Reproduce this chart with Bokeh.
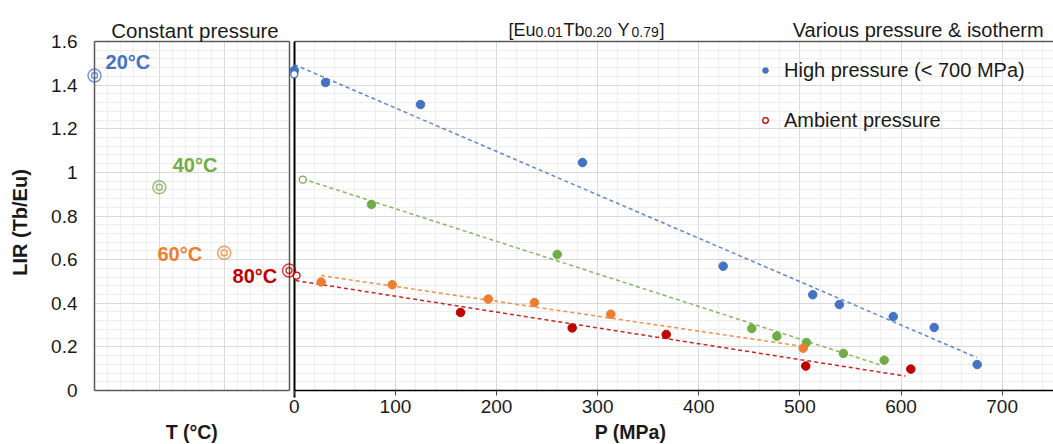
from bokeh.plotting import figure
from bokeh.models import (Range1d, LinearAxis, FixedTicker, Grid, Label,
                          Legend, LegendItem, CustomJSTickFormatter, ColumnDataSource)
from bokeh.embed import file_html
from bokeh.resources import INLINE

# ---------------- data ----------------
# constant pressure panel (T axis)
temps = [20, 40, 60, 80]
temp_labels = ["20°C", "40°C", "60°C", "80°C"]
lir_const = [1.444, 0.932, 0.631, 0.550]

# high pressure points (P in MPa)
p_blue = [0, 30.9, 124.8, 285, 424.1, 512.7, 539, 592.3, 632.8, 675.3]
lir_blue = [1.467, 1.412, 1.311, 1.045, 0.570, 0.439, 0.394, 0.339, 0.289, 0.119]
p_green = [76.3, 260, 452.4, 477.2, 506.5, 543, 583.4]
lir_green = [0.853, 0.624, 0.284, 0.249, 0.220, 0.170, 0.139]
p_orange = [26.6, 96.8, 191.8, 237.5, 313, 503.3]
lir_orange = [0.497, 0.485, 0.419, 0.403, 0.350, 0.194]
p_red = [164.4, 274.8, 367.8, 505.8, 609.7]
lir_red = [0.358, 0.287, 0.257, 0.112, 0.098]

# ambient pressure points
amb_p_blue, amb_lir_blue = [0], [1.45]
amb_p_green, amb_lir_green = [8.4], [0.967]
amb_p_red, amb_lir_red = [2.2], [0.527]

# linear trend lines (end points)
trend_blue_p, trend_blue_lir = [0, 675], [1.494, 0.151]
trend_green_p, trend_green_lir = [8.4, 581], [0.970, 0.115]
trend_orange_p, trend_orange_lir = [26.4, 503], [0.527, 0.202]
trend_red_p, trend_red_lir = [1.2, 604.4], [0.504, 0.066]

# ticks
p_ticks = [0, 100, 200, 300, 400, 500, 600, 700]
p_minor = list(range(0, 741, 20))
t_ticks = [20, 40, 60, 80]
t_minor = list(range(20, 81, 4))
lir_ticks = [0, 0.2, 0.4, 0.6, 0.8, 1.0, 1.2, 1.4, 1.6]
lir_minor = [round(0.04 * i, 2) for i in range(41)]

# panel limits
P_MIN, P_MAX = 0, 750.8
T_MIN, T_MAX = 20, 80
L_MIN, L_MAX = 0, 1.6

BLUE, GREEN, ORANGE, RED = "#4472C4", "#70AD47", "#ED7D31", "#C00000"
colors = [BLUE, GREEN, ORANGE, RED]
FONT = "Liberation Sans"
TXT = "#1a1a1a"
GMAJ, GMIN, FRAME = "#d9d9d9", "#eeeeee", "#595959"

# ---------------- figure ----------------
p = figure(width=1053, height=444, output_backend="svg", toolbar_location=None, title=None,
           x_range=Range1d(-205.5, 750.8), y_range=Range1d(-0.2476, 1.788),
           x_axis_type=None, y_axis_type=None,
           min_border_left=86, min_border_right=0, min_border_top=0, min_border_bottom=0)
p.extra_x_ranges = {"T": Range1d(17.53, 315.8)}
p.outline_line_color = None
p.background_fill_color = "white"
p.border_fill_color = "white"

# y axis
yax = LinearAxis(ticker=FixedTicker(ticks=lir_ticks))
yax.formatter = CustomJSTickFormatter(code="return tick.toFixed(1).replace(/\\.0$/, '')")
yax.major_tick_out = 0
yax.major_tick_in = 0
yax.minor_tick_line_color = None
yax.axis_line_color = None
yax.major_label_standoff = 9
yax.major_label_text_font = FONT
yax.major_label_text_font_size = "19px"
yax.major_label_text_color = TXT
yax.axis_label = "LIR (Tb/Eu)"
yax.axis_label_text_font = FONT
yax.axis_label_text_font_size = "20px"
yax.axis_label_text_font_style = "bold"
yax.axis_label_text_color = TXT
yax.axis_label_standoff = 17
p.add_layout(yax, "left")

# light grids
def grid(dim, ticks, minor, bounds, cross, rng=None, color=GMAJ, mcolor=GMIN, width=1):
    kw = dict(dimension=dim, ticker=FixedTicker(ticks=ticks, minor_ticks=minor),
              bounds=bounds, cross_bounds=cross, grid_line_color=color,
              minor_grid_line_color=mcolor, grid_line_width=width)
    if rng:
        kw["x_range_name"] = rng
    g = Grid(**kw)
    p.add_layout(g)
    return g

grid(0, p_ticks, p_minor, (P_MIN, P_MAX), (L_MIN, L_MAX))
grid(1, lir_ticks, lir_minor, (L_MIN, L_MAX), (P_MIN, P_MAX))
grid(0, t_ticks, t_minor, (T_MIN, T_MAX), (L_MIN, L_MAX), rng="T")
grid(1, lir_ticks, lir_minor, (L_MIN, L_MAX), (T_MIN, T_MAX), rng="T")

# panel frames (drawn as grid lines on the panel limits)
grid(0, [T_MIN, T_MAX], [], (T_MIN, T_MAX), (L_MIN, L_MAX), rng="T", color=FRAME, mcolor=None, width=1.5)
grid(1, [L_MIN, L_MAX], [], (L_MIN, L_MAX), (T_MIN, T_MAX), rng="T", color=FRAME, mcolor=None, width=1.5)
grid(1, [L_MAX], [], (L_MIN, L_MAX), (P_MIN, P_MAX), color=FRAME, mcolor=None, width=1.5)
grid(0, [P_MIN], [], (P_MIN, P_MAX), (-0.03, L_MAX), color="black", mcolor=None, width=2)

# x axis (pressure) at LIR = 0
xax = LinearAxis(ticker=FixedTicker(ticks=p_ticks), bounds=(P_MIN, P_MAX), fixed_location=0)
xax.axis_line_color = "black"
xax.axis_line_width = 1.5
xax.major_tick_out = 5
xax.major_tick_in = 0
xax.major_tick_line_color = "#404040"
xax.minor_tick_line_color = None
xax.major_label_standoff = 5
xax.major_label_text_font = FONT
xax.major_label_text_font_size = "19px"
xax.major_label_text_color = TXT
p.add_layout(xax, "below")

# trend lines
for tp, tl, c in [(trend_blue_p, trend_blue_lir, BLUE), (trend_green_p, trend_green_lir, GREEN),
                  (trend_orange_p, trend_orange_lir, ORANGE), (trend_red_p, trend_red_lir, RED)]:
    p.line(tp, tl, line_color=c, line_dash="4 3", line_width=1.5, line_alpha=0.85)

# high pressure points
hp = {}
for name, ps, ls, c in [("blue", p_blue, lir_blue, BLUE), ("green", p_green, lir_green, GREEN),
                        ("orange", p_orange, lir_orange, ORANGE), ("red", p_red, lir_red, RED)]:
    hp[name] = p.scatter(ps, ls, size=8.5, fill_color=c, line_color=c)

# ambient points
amb = {}
for name, ps, ls, c in [("blue", amb_p_blue, amb_lir_blue, BLUE), ("green", amb_p_green, amb_lir_green, GREEN),
                        ("red", amb_p_red, amb_lir_red, RED)]:
    amb[name] = p.scatter(ps, ls, size=7, fill_color="white", line_color=c, line_width=1.3)

# constant pressure double circles
src_c = ColumnDataSource(dict(t=temps, lir=lir_const, col=colors))
p.scatter("t", "lir", source=src_c, x_range_name="T", size=13, fill_color=None,
          line_color="col", line_width=1.5, line_alpha=0.75)
p.scatter("t", "lir", source=src_c, x_range_name="T", size=6, fill_color=None,
          line_color="col", line_width=1.5, line_alpha=0.75)

# temperature labels
for txt, tx, ty, c in [(temp_labels[0], 23.4, 1.504, BLUE), (temp_labels[1], 44.1, 1.032, GREEN),
                       (temp_labels[2], 39.4, 0.624, ORANGE), (temp_labels[3], 62.6, 0.527, RED)]:
    p.add_layout(Label(x=tx, y=ty, x_range_name="T", text=txt, text_align="left",
                       text_baseline="middle", text_font=FONT, text_font_size="20px",
                       text_font_style="bold", text_color=c))

# titles
TOP = 1.6527
p.add_layout(Label(x=51, y=TOP, x_range_name="T", text="Constant pressure", text_align="center",
                   text_baseline="alphabetic", text_font=FONT, text_font_size="20.5px", text_color=TXT))
p.add_layout(Label(x=741, y=TOP, text="Various pressure & isotherm", text_align="right",
                   text_baseline="alphabetic", text_font=FONT, text_font_size="20px", text_color=TXT))
SUB = 1.6413
for txt, tx, ty, fs in [("[Eu", 211.8, TOP, "18px"), ("0.01", 238.5, SUB, "14px"),
                        ("Tb", 266.2, TOP, "18px"), ("0.20", 287.0, SUB, "14px"),
                        ("Y", 319.6, TOP, "18px"), ("0.79", 333.5, SUB, "14px"),
                        ("]", 361.2, TOP, "18px")]:
    p.add_layout(Label(x=tx, y=ty, text=txt, text_align="left", text_baseline="alphabetic",
                       text_font=FONT, text_font_size=fs, text_color=TXT))

# axis titles
AXT = -0.1925
p.add_layout(Label(x=50, y=AXT, x_range_name="T", text="T (°C)", text_align="center",
                   text_baseline="alphabetic", text_font=FONT, text_font_size="19.5px",
                   text_font_style="bold", text_color=TXT))
p.add_layout(Label(x=332.5, y=AXT, text="P (MPa)", text_align="center",
                   text_baseline="alphabetic", text_font=FONT, text_font_size="19.5px",
                   text_font_style="bold", text_color=TXT))

# legend
legend = Legend(items=[LegendItem(label="High pressure (< 700 MPa)", renderers=[hp["blue"]]),
                       LegendItem(label="Ambient pressure", renderers=[amb["red"]])],
                location=(672, 312), border_line_color=None, background_fill_alpha=0,
                margin=0, padding=0, spacing=26, glyph_width=14, glyph_height=24,
                label_height=24, label_standoff=12, label_text_font=FONT,
                label_text_font_size="20px", label_text_color=TXT)
p.add_layout(legend)

open("out.html", "w").write(file_html(p, INLINE))
